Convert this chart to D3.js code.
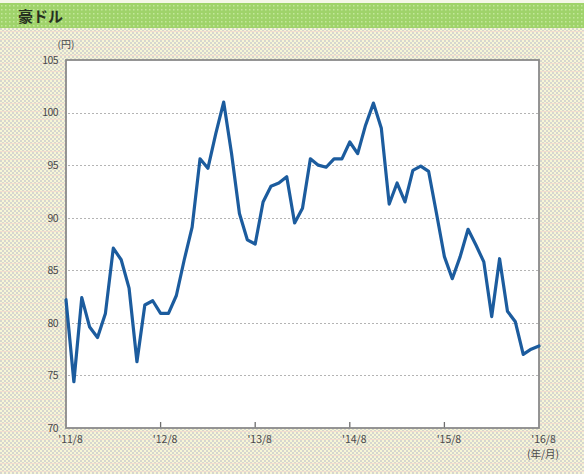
<!DOCTYPE html>
<html>
<head>
<meta charset="utf-8">
<script src="https://cdn.jsdelivr.net/npm/d3@7"></script>
<style>
  html, body { margin: 0; padding: 0; background: #fff; }
  svg { display: block; }
  text { font-family: "Noto Sans CJK JP", "Noto Sans", sans-serif; }
</style>
</head>
<body>
<svg id="chart" width="584" height="474"></svg>
<script>
// AUD/JPY monthly rate, Aug 2011 – Aug 2016 (yen)
const title = "豪ドル";
const yUnit = "(円)";
const xUnit = "(年/月)";
const monthIndex = d3.range(61);
const rates = [
  82.2, 74.4, 82.4, 79.6, 78.6, 80.9, 87.1, 86.0, 83.3, 76.3,
  81.7, 82.1, 80.9, 80.9, 82.6, 86.0, 89.1, 95.6, 94.7, 98.0,
  101.0, 96.1, 90.4, 87.9, 87.5, 91.5, 93.0, 93.3, 93.9, 89.5,
  90.9, 95.6, 95.0, 94.8, 95.6, 95.6, 97.2, 96.1, 98.8, 100.9,
  98.5, 91.3, 93.3, 91.5, 94.5, 94.9, 94.4, 90.4, 86.3, 84.2,
  86.3, 88.9, 87.4, 85.8, 80.6, 86.1, 81.1, 80.1, 77.0, 77.5,
  77.8
];
const yTicks = [70, 75, 80, 85, 90, 95, 100, 105];
const gridValues = [75, 80, 85, 90, 95, 100];
const xTickPos = [0, 12, 24, 36, 48, 60];
const xTickLabels = ["'11/8", "'12/8", "'13/8", "'14/8", "'15/8", "'16/8"];

const svg = d3.select("#chart");
const W = 584, H = 474;
const plot = { left: 66, right: 539, top: 60, bottom: 428 };

const defs = svg.append("defs");
// woven cream/grey backdrop
const bg = defs.append("pattern").attr("id", "weave")
  .attr("width", 4).attr("height", 8).attr("patternUnits", "userSpaceOnUse");
bg.append("rect").attr("width", 4).attr("height", 8).attr("fill", "#f7f6d6");
bg.append("rect").attr("x", 0).attr("y", 0).attr("width", 2).attr("height", 2).attr("fill", "#d6d6cf");
bg.append("rect").attr("x", 2).attr("y", 2).attr("width", 2).attr("height", 2).attr("fill", "#d6d6cf");
bg.append("rect").attr("x", 0).attr("y", 4).attr("width", 2).attr("height", 2).attr("fill", "#d6d6cf");
bg.append("rect").attr("x", 2).attr("y", 6).attr("width", 2).attr("height", 1).attr("fill", "#d6d6cf");
bg.append("rect").attr("x", 0).attr("y", 7).attr("width", 4).attr("height", 1).attr("fill", "#f3ddcf");

// dotted green header band
const gp = defs.append("pattern").attr("id", "green")
  .attr("width", 4).attr("height", 4).attr("patternUnits", "userSpaceOnUse");
gp.append("rect").attr("width", 4).attr("height", 4).attr("fill", "#9fd36a");
gp.append("rect").attr("x", 1).attr("y", 1).attr("width", 1.5).attr("height", 1.5).attr("fill", "#c3e79a");

svg.append("rect").attr("width", W).attr("height", H).attr("fill", "url(#weave)");
svg.append("rect").attr("x", 0).attr("y", 0).attr("width", W).attr("height", 3).attr("fill", "#f4f7e8");
svg.append("rect").attr("x", 0).attr("y", 3).attr("width", W).attr("height", 25).attr("fill", "url(#green)");
svg.append("text").attr("x", 18).attr("y", 22)
  .attr("font-size", 15).attr("font-weight", "bold").attr("fill", "#26301f")
  .text(title);

const x = d3.scaleLinear().domain([0, 60]).range([plot.left, plot.right]);
const y = d3.scaleLinear().domain([70, 105]).range([plot.bottom, plot.top]);

// plot area
svg.append("rect")
  .attr("x", plot.left).attr("y", plot.top)
  .attr("width", plot.right - plot.left).attr("height", plot.bottom - plot.top)
  .attr("fill", "#fff");

// dotted horizontal grid
svg.append("g").selectAll("line").data(gridValues).join("line")
  .attr("x1", plot.left + 2).attr("x2", plot.right - 1)
  .attr("y1", d => Math.round(y(d)) + 0.5).attr("y2", d => Math.round(y(d)) + 0.5)
  .attr("stroke", "#b4b4b4").attr("stroke-width", 1).attr("stroke-dasharray", "2,2");

// y axis labels
const yAxis = d3.axisLeft(y).tickValues(yTicks).tickSize(0).tickPadding(8);
const gy = svg.append("g").attr("transform", `translate(${plot.left},0)`).call(yAxis);
gy.select(".domain").remove();
gy.selectAll("text").attr("font-size", 10.5).attr("fill", "#4a4a4a").attr("letter-spacing", "-0.6");
svg.append("text").attr("x", 66).attr("y", 48).attr("text-anchor", "middle")
  .attr("font-size", 10).attr("fill", "#4a4a4a").text(yUnit);

// x axis: inward ticks and labels
const xAxis = d3.axisBottom(x).tickValues(xTickPos)
  .tickFormat((d, i) => xTickLabels[i]).tickSize(0).tickPadding(8);
const gx = svg.append("g").attr("transform", `translate(0,${plot.bottom})`).call(xAxis);
gx.select(".domain").remove();
gx.selectAll("text").attr("font-size", 10.5).attr("fill", "#4a4a4a").attr("dx", 4);
svg.append("g").selectAll("line").data(xTickPos.slice(1, -1)).join("line")
  .attr("x1", d => x(d)).attr("x2", d => x(d))
  .attr("y1", plot.bottom).attr("y2", plot.bottom - 6)
  .attr("stroke", "#6f6f6f").attr("stroke-width", 1.3);
svg.append("text").attr("x", x(60) + 4).attr("y", 458).attr("text-anchor", "middle")
  .attr("font-size", 10.5).attr("fill", "#4a4a4a").text(xUnit);

// plot frame
svg.append("rect")
  .attr("x", plot.left).attr("y", plot.top)
  .attr("width", plot.right - plot.left).attr("height", plot.bottom - plot.top)
  .attr("fill", "none").attr("stroke", "#8a8a8a").attr("stroke-width", 1.8);

// rate line
const line = d3.line().x(i => x(i)).y(i => y(rates[i]));
svg.append("path").datum(monthIndex)
  .attr("d", line)
  .attr("fill", "none").attr("stroke", "#1c5c9e").attr("stroke-width", 3.2)
  .attr("stroke-linejoin", "round").attr("stroke-linecap", "round");
</script>
</body>
</html>
